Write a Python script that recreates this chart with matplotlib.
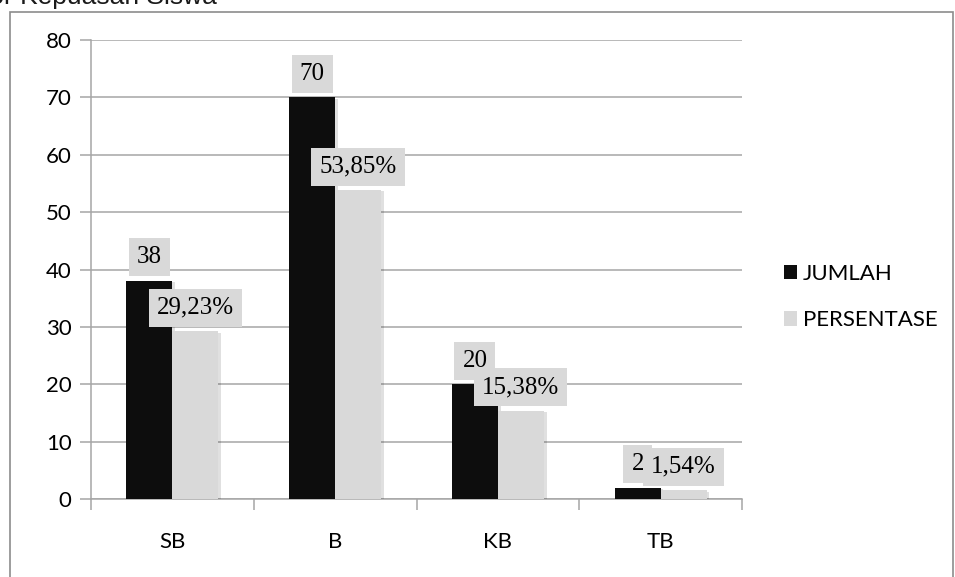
import matplotlib.pyplot as plt
import matplotlib.patheffects as pe
from matplotlib.patches import Rectangle

categories = ["SB", "B", "KB", "TB"]
jumlah = [38, 70, 20, 2]
persentase = [29.23, 53.85, 15.38, 1.54]
persentase_labels = ["29,23%", "53,85%", "15,38%", "1,54%"]
yticks = [0, 10, 20, 30, 40, 50, 60, 70, 80]
title = "Faktor Kepuasan Siswa"

BLACK = "#0d0d0d"
GREY = "#d9d9d9"
GRID = "#a6a6a6"

plt.rcParams["font.family"] = ["Lato", "DejaVu Sans"]

fig = plt.figure(figsize=(9.55, 5.77), dpi=100)

# outer chart frame
fig.patches.append(Rectangle((10 / 955, -0.05), 943 / 955, 1 - 12 / 577 + 0.05,
                             transform=fig.transFigure, fill=False,
                             edgecolor="#8c8c8c", linewidth=1.2))
fig.text(217 / 955, 1 - 4 / 577, title, ha="right", va="baseline",
         fontsize=19, color="#1a1a1a", family=["Liberation Sans"])

ax = fig.add_axes([91 / 955, 1 - 499 / 577, 651 / 955, 459 / 577])

x = list(range(len(categories)))
w = 0.282
shadow = [pe.SimplePatchShadow(offset=(2, -1), shadow_rgbFace="#000000", alpha=0.12),
          pe.Normal()]
b1 = ax.bar([i - w / 2 for i in x], jumlah, width=w, color=BLACK, zorder=3,
            label="JUMLAH", path_effects=shadow)
b2 = ax.bar([i + w / 2 for i in x], persentase, width=w, color=GREY, zorder=3,
            label="PERSENTASE", path_effects=shadow)

ax.set_xlim(-0.5, 3.5)
ax.set_ylim(0, 80)
ax.set_yticks(yticks)
ax.set_yticklabels([str(v) for v in yticks], fontsize=16)
ax.yaxis.grid(True, color=GRID, linewidth=1.1, zorder=0)
ax.set_axisbelow(True)

ax.set_xticks([-0.5, 0.5, 1.5, 2.5, 3.5])
ax.set_xticklabels([])
ax.set_xticks(x, minor=True)
ax.set_xticklabels(categories, minor=True, fontsize=16)
ax.tick_params(axis="x", which="major", length=8, color=GRID, width=1.1)
ax.tick_params(axis="x", which="minor", length=0, pad=24)
ax.tick_params(axis="y", length=8, color=GRID, width=1.1, pad=6)

for s in ["top", "right"]:
    ax.spines[s].set_visible(False)
for s in ["left", "bottom"]:
    ax.spines[s].set_color(GRID)
    ax.spines[s].set_linewidth(1.1)

box = dict(boxstyle="square,pad=0.32", facecolor=GREY, edgecolor="none")
for i in x:
    ax.annotate(str(jumlah[i]), (i - w / 2, jumlah[i]), xytext=(0, 9),
                textcoords="offset points", ha="center", va="bottom",
                fontsize=18, family=["Liberation Serif"], bbox=box, zorder=5)
for i in x:
    ax.annotate(persentase_labels[i], (i + w / 2, persentase[i]), xytext=(0, 9),
                textcoords="offset points", ha="center", va="bottom",
                fontsize=18, family=["Liberation Serif"], bbox=box, zorder=6)

leg = fig.legend(handles=[b1, b2], loc="center left",
                 bbox_to_anchor=(764 / 955, 1 - 297 / 577), frameon=False,
                 fontsize=16, handlelength=0.6, handleheight=0.6,
                 handletextpad=0.25, labelspacing=1.2)
for h in leg.legend_handles:
    h.set_path_effects([])

fig.savefig("out.png", dpi=100)
